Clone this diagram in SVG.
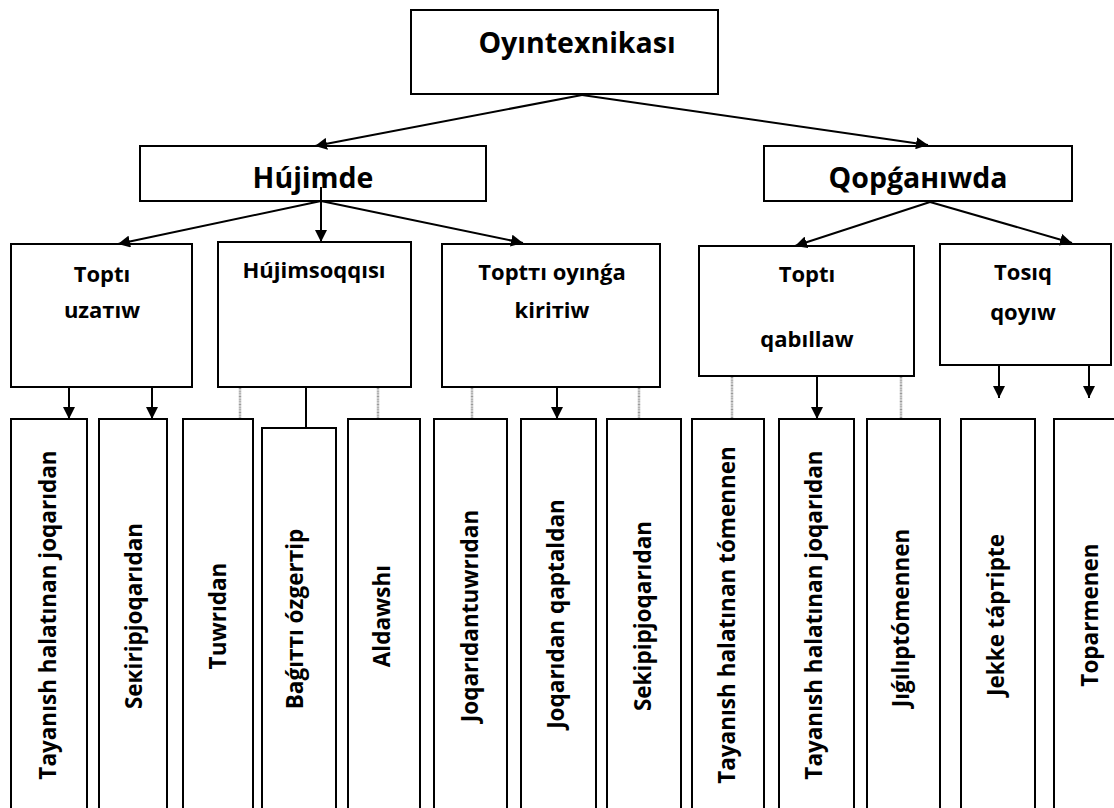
<svg xmlns="http://www.w3.org/2000/svg" width="1114" height="808" viewBox="0 0 1114 808">
<style>
.box{fill:#fff;stroke:#000;stroke-width:2}
.t{font-family:"Open Sans","Noto Sans","Liberation Sans",sans-serif;font-weight:bold;fill:#000;text-anchor:middle}
.big{font-size:28.5px}
.mid{font-size:22px}
.sm{font-size:22.5px}
.ln{stroke:#000;stroke-width:2;fill:none}
.ar{stroke:#000;stroke-width:2;fill:none;marker-end:url(#ah)}
.gr{stroke:#999;stroke-width:2.5;stroke-dasharray:1 0.6;fill:none}
</style>
<defs>
<marker id="ah" viewBox="0 0 12 12" markerWidth="12" markerHeight="12" refX="12" refY="6" orient="auto" markerUnits="userSpaceOnUse">
<path d="M0,0 L12,6 L0,12 z" fill="#000"/>
</marker>
</defs>
<rect width="1114" height="808" fill="#fff"/>

<g id="n-top"><rect class="box" x="411" y="10" width="307" height="84"/><text class="t big" x="577" y="53">Oyıntexnikası</text></g>
<g id="n-hujimde"><rect class="box" x="140" y="146" width="346" height="55"/><text class="t big" x="313" y="188">Hújimde</text></g>
<g id="n-qorganiwda"><rect class="box" x="764" y="146" width="308" height="55"/><text class="t big" x="918" y="188">Qopǵaнıwda</text></g>

<g id="n-uzatiw"><rect class="box" x="11" y="244" width="181" height="143"/><text class="t mid" x="102" y="282">Toptı</text><text class="t mid" x="102" y="318">uzaтıw</text></g>
<g id="n-soqqisi"><rect class="box" x="218" y="242" width="193" height="145"/><text class="t mid" x="314" y="278">Hújimsoqqısı</text></g>
<g id="n-kiritiw"><rect class="box" x="442" y="244" width="218" height="143"/><text class="t mid" x="552" y="280">Toptтı oyınǵa</text><text class="t mid" x="552" y="318">kiriтiw</text></g>
<g id="n-qabillaw"><rect class="box" x="699" y="246" width="215" height="130"/><text class="t mid" x="807" y="282">Toptı</text><text class="t mid" x="807" y="347">qabıllaw</text></g>
<g id="n-tosiq"><rect class="box" x="940" y="244" width="171" height="121"/><text class="t mid" x="1023" y="280">Tosıq</text><text class="t mid" x="1023" y="320">qoyıw</text></g>

<g id="n-b1"><rect class="box" x="11" y="419" width="76" height="400"/><text class="t sm" transform="translate(56,615) rotate(-90)">Tayanısh halatınan joqarıdan</text></g>
<g id="n-b2"><rect class="box" x="99" y="419" width="68" height="400"/><text class="t sm" transform="translate(142,616) rotate(-90)">Seкiripjoqarıdan</text></g>
<g id="n-b3"><rect class="box" x="183" y="419" width="70" height="400"/><text class="t sm" transform="translate(226,616) rotate(-90)">Tuwrıdan</text></g>
<g id="n-b4"><rect class="box" x="262" y="428" width="74" height="400"/><text class="t sm" transform="translate(303,619) rotate(-90)">Baǵıттı ózgerтip</text></g>
<g id="n-b5"><rect class="box" x="348" y="419" width="72" height="400"/><text class="t sm" transform="translate(390,616) rotate(-90)">Aldawshı</text></g>
<g id="n-b6"><rect class="box" x="434" y="419" width="73" height="400"/><text class="t sm" transform="translate(478,616) rotate(-90)">Joqarıdantuwrıdan</text></g>
<g id="n-b7"><rect class="box" x="521" y="419" width="75" height="400"/><text class="t sm" transform="translate(564,614) rotate(-90)">Joqarıdan qaptaldan</text></g>
<g id="n-b8"><rect class="box" x="607" y="419" width="74" height="400"/><text class="t sm" transform="translate(651,616) rotate(-90)">Sekipipjoqarıdan</text></g>
<g id="n-b9"><rect class="box" x="692" y="419" width="72" height="400"/><text class="t sm" transform="translate(735,615) rotate(-90)">Tayanısh halatınan tómennen</text></g>
<g id="n-b10"><rect class="box" x="779" y="419" width="75" height="400"/><text class="t sm" transform="translate(822,615) rotate(-90)">Tayanısh halatınan joqarıdan</text></g>
<g id="n-b11"><rect class="box" x="867" y="419" width="73" height="400"/><text class="t sm" transform="translate(909,618) rotate(-90)">Jıǵılıptómennen</text></g>
<g id="n-b12"><rect class="box" x="961" y="419" width="74" height="400"/><text class="t sm" transform="translate(1004,615) rotate(-90)">Jekke tápтipte</text></g>
<g id="n-b13"><rect class="box" x="1054" y="419" width="80" height="400"/><text class="t sm" transform="translate(1098,615) rotate(-90)">Toparmenen</text></g>

<g id="connectors">
<line class="ar" x1="582" y1="95" x2="315" y2="146"/>
<line class="ar" x1="582" y1="95" x2="928" y2="145"/>
<line class="ar" x1="321" y1="187" x2="321" y2="242"/>
<line class="ar" x1="321" y1="201" x2="118" y2="244"/>
<line class="ar" x1="321" y1="201" x2="523" y2="243"/>
<line class="ar" x1="930" y1="202" x2="795" y2="246"/>
<line class="ar" x1="930" y1="202" x2="1072" y2="243"/>
<line class="ar" x1="69" y1="387" x2="69" y2="419"/>
<line class="ar" x1="152" y1="387" x2="152" y2="419"/>
<line class="gr" x1="240" y1="388" x2="240" y2="418"/>
<line class="ln" x1="306" y1="387" x2="306" y2="428"/>
<line class="gr" x1="378" y1="388" x2="378" y2="418"/>
<line class="gr" x1="472" y1="388" x2="472" y2="418"/>
<line class="ar" x1="557" y1="387" x2="557" y2="419"/>
<line class="gr" x1="639" y1="388" x2="639" y2="418"/>
<line class="gr" x1="732" y1="377" x2="732" y2="418"/>
<line class="ar" x1="817" y1="376" x2="817" y2="419"/>
<line class="gr" x1="901" y1="377" x2="901" y2="418"/>
<line class="ar" x1="999" y1="365" x2="999" y2="398"/>
<line class="ar" x1="1089" y1="365" x2="1089" y2="398"/>
</g>
</svg>
